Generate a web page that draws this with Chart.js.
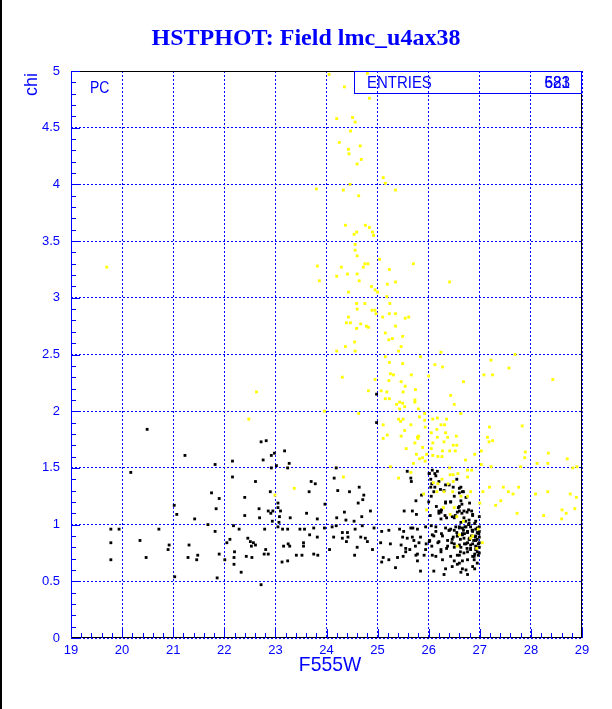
<!DOCTYPE html>
<html><head><meta charset="utf-8">
<script src="https://cdn.jsdelivr.net/npm/chart.js@4/dist/chart.umd.min.js"></script>
<style>html,body{margin:0;padding:0;background:#fff;overflow:hidden}canvas{display:block}</style>
</head><body>
<canvas id="c" width="612" height="709"></canvas>
<script>
const chartTitle = 'HSTPHOT: Field lmc_u4ax38';
const xAxisTitle = 'F555W';
const yAxisTitle = 'chi';
const padLabel = 'PC';
const statsLabel = 'ENTRIES';
const statsValues = ['683', '521'];
const xRange = [19, 29];
const yRange = [0, 5];

// black points: [F555W, chi]
const blackPoints = [
[20.49,1.84],[21.23,1.61],[21.82,1.53],[20.17,1.46],[21.75,1.28],[21.90,1.23],[21.02,1.17],[21.84,1.14],[21.07,1.09],[21.42,1.05],
[21.68,1.00],[19.78,0.96],[19.94,0.96],[20.72,0.96],[21.82,0.94],[20.35,0.86],[19.78,0.84],[20.92,0.82],[21.31,0.82],[20.90,0.78],
[21.90,0.74],[20.47,0.71],[21.29,0.71],[21.48,0.73],[21.46,0.69],[19.78,0.69],[21.03,0.54],[21.86,0.53],
[22.72,1.73],[22.82,1.74],[22.98,1.63],[22.92,1.61],[22.76,1.57],[23.18,1.65],[22.16,1.56],[23.27,1.54],[23.02,1.52],[22.92,1.50],
[23.24,1.50],[24.19,1.50],[22.16,1.42],[22.61,1.38],[24.15,1.41],[23.70,1.38],[23.78,1.36],[24.64,1.33],[24.22,1.30],[24.45,1.29],
[22.90,1.29],[23.66,1.29],[24.73,1.26],[22.40,1.24],[23.05,1.19],[23.97,1.18],[24.71,1.22],[24.62,1.19],[22.86,1.12],[22.95,1.12],
[22.91,1.10],[23.05,1.15],[23.10,1.12],[22.68,1.14],[22.40,1.08],[23.61,1.10],[24.35,1.11],[24.86,1.12],[22.69,1.06],[22.94,1.03],
[23.08,1.07],[23.29,1.06],[23.07,1.02],[23.82,1.05],[24.20,1.06],[24.38,1.04],[24.54,1.03],[24.69,1.07],[22.18,0.99],[22.29,0.96],
[22.79,0.96],[23.05,0.98],[23.14,0.96],[23.24,0.96],[23.48,0.96],[23.57,0.96],[23.75,0.97],[23.96,0.97],[24.11,0.98],[24.19,0.99],
[24.31,0.93],[24.41,0.93],[24.56,0.96],[24.70,0.99],[24.93,0.97],[25.08,0.94],[25.22,0.95],[25.43,0.96],[25.51,0.94],[25.69,0.97],
[22.05,0.84],[22.11,0.87],[22.46,0.88],[22.51,0.85],[22.57,0.84],[22.53,0.81],[22.61,0.82],[23.16,0.81],[23.25,0.83],[23.28,0.81],
[23.55,0.84],[23.67,0.91],[23.82,0.89],[23.55,0.81],[24.14,0.89],[24.31,0.88],[24.42,0.89],[24.39,0.85],[24.67,0.89],[24.76,0.88],
[24.80,0.85],[24.60,0.80],[25.06,0.84],[25.25,0.83],[25.46,0.82],[25.49,0.89],[25.68,0.89],[25.74,0.81],[22.20,0.76],[22.19,0.71],
[22.43,0.72],[22.54,0.71],[22.78,0.74],[22.86,0.74],[22.81,0.78],[23.41,0.73],[23.52,0.73],[23.75,0.74],[23.83,0.73],[24.06,0.78],
[24.55,0.73],[24.90,0.78],[25.11,0.71],[25.22,0.69],[25.39,0.71],[25.50,0.72],[25.63,0.78],[22.01,0.69],[23.13,0.67],[23.24,0.68],
[22.19,0.65],[25.08,0.67],[25.35,0.62],[22.33,0.58],[22.72,0.47],[24.98,2.15],[24.98,1.90],
[25.58,1.47],[25.65,1.41],[25.66,1.38],[26.01,1.45],[26.07,1.48],[26.12,1.45],[26.17,1.47],[26.04,1.40],[26.04,1.33],[26.10,1.29],
[26.63,1.33],[26.68,1.29],[25.86,1.26],[25.75,1.21],[26.33,1.20],[26.43,1.20],[26.63,1.21],[25.52,1.12],[25.68,1.12],[26.20,1.12],
[26.24,1.11],[26.60,1.12],[26.69,1.12],[26.84,1.12],[26.86,1.09],[25.76,1.09],[26.03,1.08],[26.24,1.05],[26.35,1.06],[26.50,1.06],
[26.79,1.04],[26.63,1.02],[26.05,0.99],[25.65,0.97],[25.78,0.96],[25.94,0.98],[26.14,0.98],[26.43,0.96],[26.53,0.98],[26.60,0.98],
[26.66,0.97],[26.73,0.98],[26.82,0.98],[26.92,0.96],[26.99,0.98],[26.86,0.94],[26.76,0.93],[26.66,0.92],[26.56,0.90],[26.48,0.89],
[26.92,0.90],[26.99,0.89],[26.84,0.90],[26.95,0.87],[26.92,0.86],[26.79,0.87],[26.69,0.88],[26.27,0.90],[26.10,0.90],[26.01,0.85],
[25.58,0.88],[25.84,0.89],[25.71,0.86],[25.81,0.84],[26.18,0.84],[26.50,0.83],[26.76,0.84],[26.86,0.83],[26.97,0.83],[26.37,0.81],
[26.63,0.80],[26.06,0.81],[25.95,0.83],[25.55,0.79],[25.94,0.78],[26.24,0.78],[26.82,0.79],[26.92,0.78],[26.76,0.76],[25.55,0.76],
[25.78,0.74],[26.62,0.76],[26.95,0.76],[25.75,0.73],[25.91,0.73],[26.07,0.73],[26.60,0.73],[26.86,0.72],[26.97,0.73],[26.50,0.68],
[26.66,0.68],[26.89,0.69],[25.78,0.68],[26.56,0.65],[26.66,0.61],[26.90,0.61],[25.84,0.59],[26.10,0.59],[26.76,0.56],[26.30,0.56],
[26.78,1.00],[26.85,0.95],[26.90,1.01],[26.95,0.93],[26.70,0.92],[26.80,0.88],[26.88,0.86],[26.93,0.80],[26.82,0.82],[26.75,0.79],
[26.68,0.95],[26.98,0.92],[26.72,1.03],[26.90,0.74],[26.55,0.93],[26.62,0.87],[26.70,0.83],[26.45,0.84],[26.40,0.95],[26.52,1.08],
[26.58,1.15],[26.65,1.18],[26.75,1.11],[26.50,1.25],[26.30,1.30],[26.40,1.35],[26.20,1.38],[26.55,1.40],[26.60,1.28],[26.00,1.20],
[26.15,1.16],[26.05,1.25],
[26.01,1.45],[26.14,1.43],[26.06,1.36],[26.12,1.33],[26.23,1.31],[26.33,1.35],[26.48,1.33],[26.60,1.32],[26.66,1.29],[26.73,1.24],
[26.80,1.19],[26.60,1.16],[26.43,1.20],[26.33,1.19],[26.25,1.13],[26.20,1.10],[26.32,1.08],[26.46,1.07],[26.56,1.11],[26.65,1.10],
[26.69,1.06],[26.78,1.13],[26.86,1.08],[26.92,1.03],[26.99,1.07],[26.79,1.01],[26.71,0.98],[26.60,0.97],[26.50,0.95],[26.40,0.95],
[26.33,0.97],[26.25,0.92],[26.14,0.94],[26.07,0.91],[26.02,0.86],[26.20,0.85],[26.37,0.86],[26.46,0.87],[26.56,0.90],[26.66,0.91],
[26.76,0.94],[26.86,0.95],[26.95,0.97],[26.99,0.94],[26.91,0.89],[26.80,0.87],[26.73,0.83],[26.60,0.82],[26.50,0.80],[26.35,0.79],
[26.24,0.76],[26.14,0.72],[26.27,0.69],[26.43,0.72],[26.56,0.73],[26.69,0.75],[26.82,0.78],[26.92,0.81],[26.99,0.84],[26.89,0.72],
[26.76,0.69],[26.60,0.66],[26.46,0.63],[26.86,0.63],[26.73,0.60],[26.95,0.66],[26.63,0.58],[26.33,0.61],[26.99,0.75],[26.99,0.80]
];

// yellow points: [F555W, chi]
const yellowPoints = [
[24.80,4.98],[24.05,4.97],[24.35,4.86],[24.84,4.76],[24.20,4.58],[24.51,4.59],[24.56,4.55],[24.47,4.47],[24.25,4.37],[24.66,4.34],
[24.43,4.31],[24.44,4.27],[24.68,4.22],[24.60,4.18],[25.11,4.06],[25.15,4.01],[24.46,4.00],[23.80,3.96],[24.33,3.95],[25.35,3.95],
[24.63,3.90],[24.37,3.64],[24.76,3.64],[24.84,3.62],[24.59,3.58],[24.90,3.58],[24.92,3.55],[24.54,3.56],[24.56,3.47],[24.56,3.42],
[24.60,3.37],[25.04,3.34],[23.82,3.28],[24.29,3.27],[24.75,3.30],[24.81,3.30],[24.72,3.27],[24.41,3.21],[24.60,3.21],[24.20,3.19],
[25.23,3.25],[23.86,3.15],[24.64,3.15],[25.19,3.12],[25.35,3.14],[24.88,3.10],[24.95,3.07],[24.43,3.05],[25.00,3.05],[25.18,3.01],
[24.59,2.95],[24.75,2.95],[24.60,2.90],[24.89,2.89],[24.95,2.89],[25.23,2.86],[24.97,2.86],[25.10,2.83],[24.43,2.83],[25.35,2.86],
[24.39,2.78],[24.47,2.78],[24.67,2.77],[24.78,2.75],[24.82,2.74],[24.59,2.73],[25.35,2.75],[25.15,2.69],[25.22,2.63],[25.29,2.64],
[24.55,2.61],[24.20,2.53],[24.37,2.57],[25.41,2.53],[25.15,2.48],[25.23,2.43],[24.31,2.30],[25.25,2.33],[25.31,2.32],[25.22,2.27],
[24.82,2.18],[25.07,2.18],[25.18,2.17],[25.15,2.11],[25.23,2.11],[25.43,2.08],[25.37,2.06],[25.43,2.02],[23.96,2.00],[24.63,1.98],
[25.41,1.93],[25.70,3.30],[26.41,3.14],[25.24,2.95],[25.61,2.83],[25.54,2.82],[25.49,2.66],[25.46,2.57],[26.24,2.52],[27.69,2.50],
[25.84,2.48],[25.49,2.42],[26.12,2.41],[26.27,2.39],[27.22,2.45],[27.57,2.38],[25.66,2.32],[26.00,2.31],[27.08,2.32],[27.25,2.32],
[24.95,2.28],[28.43,2.28],[26.68,2.26],[25.46,2.26],[25.54,2.22],[25.50,2.17],[25.74,2.19],[26.43,2.14],[25.73,2.10],[25.73,2.08],
[25.49,2.07],[25.53,2.04],[26.50,2.06],[25.80,2.02],[26.63,1.98],[25.92,1.98],[25.82,1.95],[25.50,1.93],[25.92,1.92],[26.08,1.93],
[26.17,1.94],[26.24,1.88],[26.31,1.88],[26.35,1.93],[27.19,1.86],[27.83,1.87],[26.05,1.81],[26.16,1.84],[26.33,1.81],[26.54,1.78],
[26.17,1.77],[25.79,1.76],[24.56,2.53],[19.70,3.27],[22.63,2.17],[22.48,1.93],
[25.11,1.88],[25.45,1.91],[25.65,1.88],[25.19,1.79],[25.46,1.78],[25.53,1.83],[25.78,1.77],[25.11,1.76],[25.73,1.72],[25.56,1.67],
[25.76,1.62],[25.82,1.58],[25.70,1.54],[25.25,1.51],[25.65,1.46],[25.41,1.41],[24.33,1.42],[23.37,1.32],[22.99,1.26],
[25.93,1.86],[25.80,1.78],[26.37,1.77],[27.15,1.77],[27.18,1.73],[27.25,1.74],[26.30,1.73],[26.08,1.72],[26.48,1.70],[26.55,1.70],
[25.88,1.68],[26.05,1.67],[26.27,1.65],[26.41,1.65],[26.52,1.65],[27.03,1.65],[26.90,1.62],[27.89,1.64],[25.96,1.62],[26.08,1.61],
[26.18,1.60],[26.26,1.60],[25.88,1.59],[27.88,1.59],[28.34,1.63],[26.72,1.57],[25.93,1.56],[28.71,1.58],[27.80,1.51],[28.12,1.54],
[28.33,1.54],[28.82,1.50],[28.90,1.51],[27.22,1.51],[27.03,1.53],[26.41,1.50],[26.76,1.48],[26.84,1.48],[26.42,1.44],[26.48,1.44],
[26.57,1.45],[26.26,1.40],[26.76,1.42],[26.48,1.38],[26.09,1.37],[26.18,1.36],[26.38,1.36],[27.19,1.33],[27.46,1.33],[27.06,1.29],
[27.56,1.29],[27.76,1.33],[28.09,1.27],[28.33,1.29],[28.77,1.27],[28.89,1.24],[26.82,1.29],[26.16,1.29],[26.30,1.29],[26.47,1.29],
[26.76,1.25],[26.63,1.25],[25.90,1.27],[27.00,1.19],[27.41,1.21],[27.31,1.17],[27.65,1.27],[26.29,1.15],[26.50,1.15],[25.96,1.13],
[27.73,1.10],[28.25,1.08],[28.61,1.13],[28.86,1.14],[28.69,1.10],[28.60,1.05],[26.42,1.09],[26.55,1.07],[26.68,1.03],[26.97,0.96],
[26.60,0.91],[26.86,0.90],[26.82,0.88],[27.05,0.84],[26.56,0.81],[26.94,0.79]
];

const BLUE = '#0000ff';
const toXY = arr => arr.map(p => ({x: p[0], y: p[1]}));
const fmtTick = v => String(Math.round(v * 10) / 10);

function drawScaledText(c, txt, x, y, font, sx, align) {
  c.save();
  c.font = font;
  c.textBaseline = 'middle';
  c.textAlign = align || 'left';
  c.translate(x, y);
  c.scale(sx, 1);
  c.fillText(txt, 0, 0);
  c.restore();
}

const decor = {
  id: 'decor',
  beforeDraw(chart) {
    const c = chart.ctx;
    c.save(); c.fillStyle = '#fff'; c.fillRect(0, 0, chart.width, chart.height); c.restore();
  },
  afterDraw(chart) {
    const c = chart.ctx, xs = chart.scales.x, ys = chart.scales.y;
    const L = Math.round(xs.getPixelForValue(xRange[0]));
    const R = Math.round(xs.getPixelForValue(xRange[1]));
    const T = Math.round(ys.getPixelForValue(yRange[1]));
    const B = Math.round(ys.getPixelForValue(yRange[0]));
    c.save();
    c.setTransform(1, 0, 0, 1, 0, 0);
    c.globalAlpha = 1;
    c.globalCompositeOperation = 'source-over';
    // frame (solid)
    c.fillStyle = '#000';
    c.fillRect(L, T, R - L, 1);
    c.fillRect(R - 1, T, 1, B - T);
    c.fillRect(L, B - 1, R - L, 1);
    c.fillStyle = BLUE;
    c.fillRect(L, T, 1, B - T);
    // ticks drawn with the scales
    for (let i = 0; i <= 50; i++) {
      const px = Math.round(xs.getPixelForValue(xRange[0] + i * 0.2));
      const len = (i % 5 === 0) ? 9 : 5;
      c.fillRect(px, B - len, 1, len);
    }
    for (let i = 0; i <= 50; i++) {
      const py = Math.round(ys.getPixelForValue(yRange[0] + i * 0.1));
      const len = (i % 5 === 0) ? 9 : 5;
      c.fillRect(L, py, len, 1);
    }
    // stats box
    c.fillRect(354, T, R - 354, 1);
    c.fillRect(354, T + 22, R - 354, 1);
    c.fillRect(354, T, 1, 23);
    c.fillRect(R - 1, T, 1, 23);
    drawScaledText(c, statsLabel, 367, 83, '17px "Liberation Sans", Arial, sans-serif', 0.88, 'left');
    statsValues.forEach(v => drawScaledText(c, v, 570, 83, '17px "Liberation Sans", Arial, sans-serif', 0.9, 'right'));
    // PC label
    drawScaledText(c, padLabel, 90, 88, '17px "Liberation Sans", Arial, sans-serif', 0.82, 'left');
    // title
    c.font = 'bold 24px "Liberation Serif", "Times New Roman", serif';
    c.textAlign = 'center'; c.textBaseline = 'middle';
    c.fillText(chartTitle, 306, 39);
    // x axis title
    drawScaledText(c, xAxisTitle, 330, 665, '21px "Liberation Sans", Arial, sans-serif', 0.92, 'center');
    // y axis title (rotated)
    c.save();
    c.translate(32, 73);
    c.rotate(-Math.PI / 2);
    c.font = '18px "Liberation Sans", Arial, sans-serif';
    c.textAlign = 'right'; c.textBaseline = 'middle';
    c.fillText(yAxisTitle, 0, 0);
    c.restore();
    // left page edge
    c.fillStyle = '#000';
    c.fillRect(0, 0, 2, chart.height);
    c.restore();
  }
};

new Chart(document.getElementById('c').getContext('2d'), {
  type: 'scatter',
  data: {
    datasets: [
      { label: 'yellow', data: toXY(yellowPoints), order: 0,
        pointStyle: 'rect', pointRadius: 2, pointBorderWidth: 0, backgroundColor: '#ffff00', borderColor: '#ffff00' },
      { label: 'black', data: toXY(blackPoints), order: 1,
        pointStyle: 'rect', pointRadius: 2, pointBorderWidth: 0, backgroundColor: '#000000', borderColor: '#000000' }
    ]
  },
  options: {
    responsive: false,
    animation: false,
    events: [],
    layout: { padding: { top: 71, right: 30, left: 0, bottom: 0 } },
    plugins: { legend: { display: false }, tooltip: { enabled: false }, title: { display: false } },
    scales: {
      x: {
        type: 'linear', min: xRange[0], max: xRange[1],
        afterFit(s) { s.height = 71; },
        ticks: { stepSize: 1, color: BLUE, padding: 5, maxRotation: 0, autoSkip: false, callback: fmtTick,
                 font: { family: '"Liberation Sans", Arial, sans-serif', size: 13 } },
        grid: { color: BLUE, lineWidth: 1, drawTicks: false },
        border: { display: false, dash: [2, 2] }
      },
      y: {
        type: 'linear', min: yRange[0], max: yRange[1],
        afterFit(s) { s.width = 71; },
        ticks: { stepSize: 0.5, color: BLUE, padding: 11, autoSkip: false, callback: fmtTick,
                 font: { family: '"Liberation Sans", Arial, sans-serif', size: 13 } },
        grid: { color: BLUE, lineWidth: 1, drawTicks: false },
        border: { display: false, dash: [2, 2] }
      }
    }
  },
  plugins: [decor]
});
</script>
</body></html>
